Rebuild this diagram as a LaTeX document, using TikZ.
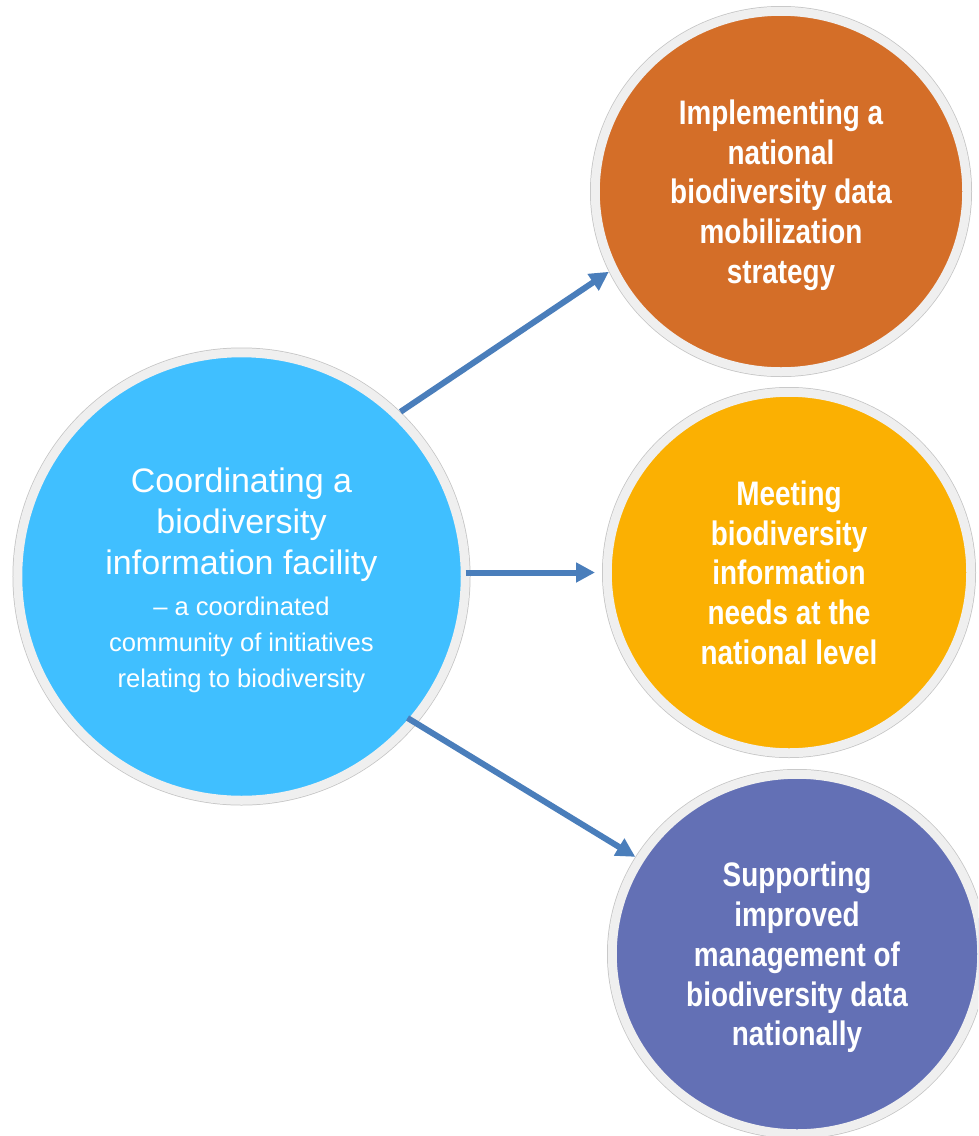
\documentclass[tikz,border=0pt]{standalone}
\usepackage{fontspec}
\setmainfont{Liberation Sans}
\newfontfamily\narrowsans[FakeStretch=0.82]{Liberation Sans}
\usetikzlibrary{arrows.meta,shapes.geometric}
\definecolor{cblue}{HTML}{40BFFF}
\definecolor{corange}{HTML}{D46E28}
\definecolor{cyellow}{HTML}{FBB002}
\definecolor{cpurple}{HTML}{6370B5}
\definecolor{arrowblue}{HTML}{4A7EBB}
\definecolor{ringgray}{HTML}{EFEFEF}
\definecolor{ringline}{HTML}{C4C4C4}
\begin{document}
\begin{tikzpicture}[x=1pt,y=-1pt,
  bub/.style={ellipse, fill=#1, draw=ringgray, line width=9pt, outer sep=5.25pt,
    preaction={draw=ringline, line width=10.5pt}, text=white, inner sep=3pt},
  goal/.style={bub=#1, align=center, text depth=0pt,
    font=\narrowsans\bfseries\fontsize{34}{39.75}\selectfont},
  arr/.style={draw=arrowblue, line width=6pt, -{Triangle[length=19pt,width=19pt]}}
]
\useasboundingbox (0,0) rectangle (978,1136);
\fill[white] (0,0) rectangle (978,1136);
\clip (0,0) rectangle (978,1136);

\node[bub=cblue, minimum width=447.5pt, minimum height=447.5pt,
  text width=290pt, align=center] (c) at (241.5,576.5)
  {\fontsize{34}{41}\selectfont\spaceskip=\fontdimen2\font\xspaceskip=\fontdimen2\font
   Coordinating a\\biodiversity\\information facility\par
   \vspace{5pt}\fontsize{25.6}{36}\selectfont\spaceskip=\fontdimen2\font\xspaceskip=\fontdimen2\font
   \mbox{– a coordinated}\\community of initiatives\\relating to biodiversity\par
   \vspace{-7pt}};

\node[goal=corange, minimum width=371.5pt, minimum height=360.5pt] (o) at (781,191.5)
  {Implementing a\\national\\biodiversity data\\mobilization\\strategy};

\node[goal=cyellow, minimum width=363.5pt, minimum height=360.5pt] (y) at (789,572.5)
  {Meeting\\biodiversity\\information\\needs at the\\national level};

\node[goal=cpurple, minimum width=369.5pt, minimum height=359.5pt] (p) at (797,954)
  {Supporting\\improved\\management of\\biodiversity data\\nationally};

\draw[arr] (c.46.8) -- (o.205.5);
\draw[arr, shorten <=-5pt, shorten >=7pt] (y.west -| c.east) -- (y.west);
\draw[arr, shorten <=-11pt] (c.-40.7) -- (p.149.35);
\end{tikzpicture}
\end{document}
